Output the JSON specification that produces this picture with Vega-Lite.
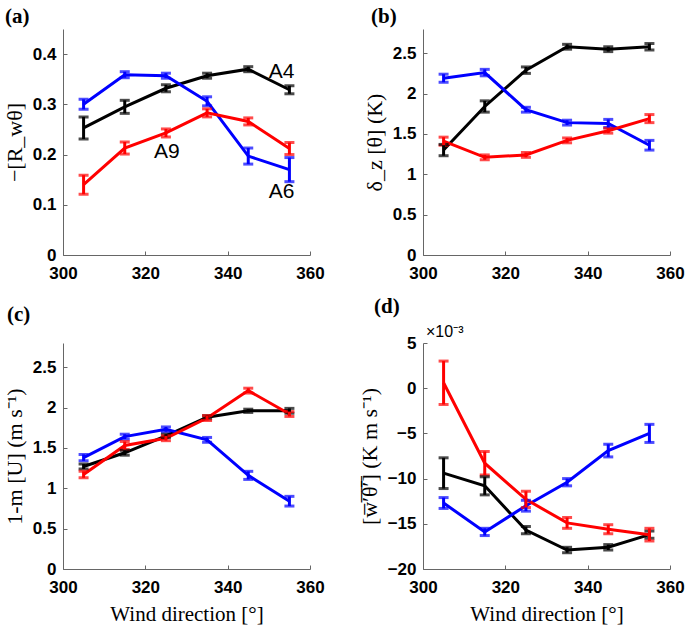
{
  "$schema": "https://vega.github.io/schema/vega-lite/v6.json",
  "autosize": "pad",
  "padding": {"left": 3, "top": 6, "right": 0, "bottom": 5},
  "background": "white",
  "datasets": {
    "pts": [
      {"panel": "a", "series": "A4", "dir": 305, "v": 0.253, "e": 0.022},
      {"panel": "a", "series": "A4", "dir": 315, "v": 0.295, "e": 0.013},
      {"panel": "a", "series": "A4", "dir": 325, "v": 0.332, "e": 0.007},
      {"panel": "a", "series": "A4", "dir": 335, "v": 0.357, "e": 0.005},
      {"panel": "a", "series": "A4", "dir": 345, "v": 0.370, "e": 0.005},
      {"panel": "a", "series": "A4", "dir": 355, "v": 0.329, "e": 0.008},
      {"panel": "a", "series": "A6", "dir": 305, "v": 0.300, "e": 0.010},
      {"panel": "a", "series": "A6", "dir": 315, "v": 0.359, "e": 0.006},
      {"panel": "a", "series": "A6", "dir": 325, "v": 0.357, "e": 0.005},
      {"panel": "a", "series": "A6", "dir": 335, "v": 0.306, "e": 0.009},
      {"panel": "a", "series": "A6", "dir": 345, "v": 0.197, "e": 0.016},
      {"panel": "a", "series": "A6", "dir": 355, "v": 0.170, "e": 0.024},
      {"panel": "a", "series": "A9", "dir": 305, "v": 0.140, "e": 0.019},
      {"panel": "a", "series": "A9", "dir": 315, "v": 0.213, "e": 0.012},
      {"panel": "a", "series": "A9", "dir": 325, "v": 0.243, "e": 0.008},
      {"panel": "a", "series": "A9", "dir": 335, "v": 0.283, "e": 0.008},
      {"panel": "a", "series": "A9", "dir": 345, "v": 0.266, "e": 0.007},
      {"panel": "a", "series": "A9", "dir": 355, "v": 0.212, "e": 0.012},
      {"panel": "b", "series": "A4", "dir": 305, "v": 1.30, "e": 0.07},
      {"panel": "b", "series": "A4", "dir": 315, "v": 1.84, "e": 0.07},
      {"panel": "b", "series": "A4", "dir": 325, "v": 2.29, "e": 0.04},
      {"panel": "b", "series": "A4", "dir": 335, "v": 2.58, "e": 0.03},
      {"panel": "b", "series": "A4", "dir": 345, "v": 2.55, "e": 0.03},
      {"panel": "b", "series": "A4", "dir": 355, "v": 2.58, "e": 0.04},
      {"panel": "b", "series": "A6", "dir": 305, "v": 2.19, "e": 0.05},
      {"panel": "b", "series": "A6", "dir": 315, "v": 2.26, "e": 0.04},
      {"panel": "b", "series": "A6", "dir": 325, "v": 1.80, "e": 0.03},
      {"panel": "b", "series": "A6", "dir": 335, "v": 1.64, "e": 0.03},
      {"panel": "b", "series": "A6", "dir": 345, "v": 1.63, "e": 0.05},
      {"panel": "b", "series": "A6", "dir": 355, "v": 1.36, "e": 0.06},
      {"panel": "b", "series": "A9", "dir": 305, "v": 1.41, "e": 0.05},
      {"panel": "b", "series": "A9", "dir": 315, "v": 1.21, "e": 0.03},
      {"panel": "b", "series": "A9", "dir": 325, "v": 1.24, "e": 0.03},
      {"panel": "b", "series": "A9", "dir": 335, "v": 1.42, "e": 0.03},
      {"panel": "b", "series": "A9", "dir": 345, "v": 1.54, "e": 0.03},
      {"panel": "b", "series": "A9", "dir": 355, "v": 1.69, "e": 0.05},
      {"panel": "c", "series": "A4", "dir": 305, "v": 1.27, "e": 0.03},
      {"panel": "c", "series": "A4", "dir": 315, "v": 1.44, "e": 0.03},
      {"panel": "c", "series": "A4", "dir": 325, "v": 1.65, "e": 0.02},
      {"panel": "c", "series": "A4", "dir": 335, "v": 1.88, "e": 0.02},
      {"panel": "c", "series": "A4", "dir": 345, "v": 1.96, "e": 0.02},
      {"panel": "c", "series": "A4", "dir": 355, "v": 1.96, "e": 0.03},
      {"panel": "c", "series": "A6", "dir": 305, "v": 1.38, "e": 0.04},
      {"panel": "c", "series": "A6", "dir": 315, "v": 1.64, "e": 0.03},
      {"panel": "c", "series": "A6", "dir": 325, "v": 1.73, "e": 0.03},
      {"panel": "c", "series": "A6", "dir": 335, "v": 1.60, "e": 0.03},
      {"panel": "c", "series": "A6", "dir": 345, "v": 1.16, "e": 0.05},
      {"panel": "c", "series": "A6", "dir": 355, "v": 0.84, "e": 0.06},
      {"panel": "c", "series": "A9", "dir": 305, "v": 1.17, "e": 0.04},
      {"panel": "c", "series": "A9", "dir": 315, "v": 1.53, "e": 0.05},
      {"panel": "c", "series": "A9", "dir": 325, "v": 1.62, "e": 0.03},
      {"panel": "c", "series": "A9", "dir": 335, "v": 1.87, "e": 0.03},
      {"panel": "c", "series": "A9", "dir": 345, "v": 2.21, "e": 0.03},
      {"panel": "c", "series": "A9", "dir": 355, "v": 1.92, "e": 0.03},
      {"panel": "d", "series": "A4", "dir": 305, "v": -9.4, "e": 1.7},
      {"panel": "d", "series": "A4", "dir": 315, "v": -10.8, "e": 1.0},
      {"panel": "d", "series": "A4", "dir": 325, "v": -15.7, "e": 0.4},
      {"panel": "d", "series": "A4", "dir": 335, "v": -17.9, "e": 0.3},
      {"panel": "d", "series": "A4", "dir": 345, "v": -17.6, "e": 0.3},
      {"panel": "d", "series": "A4", "dir": 355, "v": -16.2, "e": 0.4},
      {"panel": "d", "series": "A6", "dir": 305, "v": -12.7, "e": 0.6},
      {"panel": "d", "series": "A6", "dir": 315, "v": -15.9, "e": 0.4},
      {"panel": "d", "series": "A6", "dir": 325, "v": -13.0, "e": 0.6},
      {"panel": "d", "series": "A6", "dir": 335, "v": -10.4, "e": 0.4},
      {"panel": "d", "series": "A6", "dir": 345, "v": -6.9, "e": 0.7},
      {"panel": "d", "series": "A6", "dir": 355, "v": -5.0, "e": 1.0},
      {"panel": "d", "series": "A9", "dir": 305, "v": 0.6, "e": 2.4},
      {"panel": "d", "series": "A9", "dir": 315, "v": -8.3, "e": 1.3},
      {"panel": "d", "series": "A9", "dir": 325, "v": -12.3, "e": 0.9},
      {"panel": "d", "series": "A9", "dir": 335, "v": -14.9, "e": 0.6},
      {"panel": "d", "series": "A9", "dir": 345, "v": -15.6, "e": 0.5},
      {"panel": "d", "series": "A9", "dir": 355, "v": -16.2, "e": 0.7}
    ],
    "labels": [
      {"label": "A4", "dir": 350, "v": 0.352},
      {"label": "A9", "dir": 322.1, "v": 0.193},
      {"label": "A6", "dir": 350, "v": 0.113}
    ],
    "scale": [
      {"label": "×10⁻³", "dir": 300, "v": 5}
    ]
  },
  "columns": 2,
  "bounds": "flush",
  "spacing": {"row": 88, "column": 113},
  "concat": [
    {
      "width": 247, "height": 226,
      "title": {"text": "(a)", "dx": -58, "offset": 2},
      "data": {"name": "pts"},
      "transform": [{"filter": "datum.panel === 'a'"}],
      "encoding": {
        "x": {"field": "dir", "type": "quantitative", "scale": {"domain": [300, 360]}, "axis": {"values": [300, 320, 340, 360], "title": null}},
        "y": {"field": "v", "type": "quantitative", "scale": {"domain": [0, 0.45]}, "axis": {"values": [0, 0.1, 0.2, 0.3, 0.4], "format": ".1~f"}, "title": "−[R_wθ]"}
      },
      "layer": [
        {
          "mark": {"type": "line", "strokeWidth": 3},
          "encoding": {
            "color": {"field": "series", "type": "nominal", "scale": {"domain": ["A4", "A6", "A9"], "range": ["#000000", "#0000ff", "#ff0000"]}, "legend": null}
          }
        },
        {
          "mark": {"type": "errorbar", "ticks": {"size": 10}, "thickness": 3},
          "encoding": {
            "yError": {"field": "e"},
            "color": {"field": "series", "type": "nominal", "legend": null}
          }
        },
        {
          "data": {"name": "labels"},
          "mark": {"type": "text", "align": "left", "baseline": "alphabetic", "fontSize": 21, "font": "Liberation Sans", "color": "#000"},
          "encoding": {
            "text": {"field": "label"}
          }
        }
      ]
    },
    {
      "width": 247, "height": 226,
      "title": {"text": "(b)", "dx": -52, "offset": 2},
      "data": {"name": "pts"},
      "transform": [{"filter": "datum.panel === 'b'"}],
      "encoding": {
        "x": {"field": "dir", "type": "quantitative", "scale": {"domain": [300, 360]}, "axis": {"values": [300, 320, 340, 360], "title": null}},
        "y": {"field": "v", "type": "quantitative", "scale": {"domain": [0, 2.8]}, "axis": {"values": [0, 0.5, 1, 1.5, 2, 2.5], "format": "~g"}, "title": "δ_z [θ]  (K)"}
      },
      "layer": [
        {
          "mark": {"type": "line", "strokeWidth": 3},
          "encoding": {
            "color": {"field": "series", "type": "nominal", "scale": {"domain": ["A4", "A6", "A9"], "range": ["#000000", "#0000ff", "#ff0000"]}, "legend": null}
          }
        },
        {
          "mark": {"type": "errorbar", "ticks": {"size": 10}, "thickness": 3},
          "encoding": {
            "yError": {"field": "e"},
            "color": {"field": "series", "type": "nominal", "legend": null}
          }
        }
      ]
    },
    {
      "width": 247, "height": 226,
      "title": {"text": "(c)", "dx": -56, "offset": 18},
      "data": {"name": "pts"},
      "transform": [{"filter": "datum.panel === 'c'"}],
      "encoding": {
        "x": {"field": "dir", "type": "quantitative", "scale": {"domain": [300, 360]}, "axis": {"values": [300, 320, 340, 360]}, "title": "Wind direction [°]"},
        "y": {"field": "v", "type": "quantitative", "scale": {"domain": [0, 2.8]}, "axis": {"values": [0, 0.5, 1, 1.5, 2, 2.5], "format": "~g"}, "title": "1-m  [U]  (m s⁻¹)"}
      },
      "layer": [
        {
          "mark": {"type": "line", "strokeWidth": 3},
          "encoding": {
            "color": {"field": "series", "type": "nominal", "scale": {"domain": ["A4", "A6", "A9"], "range": ["#000000", "#0000ff", "#ff0000"]}, "legend": null}
          }
        },
        {
          "mark": {"type": "errorbar", "ticks": {"size": 10}, "thickness": 3},
          "encoding": {
            "yError": {"field": "e"},
            "color": {"field": "series", "type": "nominal", "legend": null}
          }
        }
      ]
    },
    {
      "width": 247, "height": 226,
      "title": {"text": "(d)", "dx": -49, "offset": 7},
      "data": {"name": "pts"},
      "transform": [{"filter": "datum.panel === 'd'"}],
      "encoding": {
        "x": {"field": "dir", "type": "quantitative", "scale": {"domain": [300, 360]}, "axis": {"values": [300, 320, 340, 360]}, "title": "Wind direction [°]"},
        "y": {"field": "v", "type": "quantitative", "scale": {"domain": [-20, 5]}, "axis": {"values": [-20, -15, -10, -5, 0, 5], "format": "~g"}, "title": "[w̅′̅θ̅′̅]  (K m s⁻¹)"}
      },
      "layer": [
        {
          "mark": {"type": "line", "strokeWidth": 3},
          "encoding": {
            "color": {"field": "series", "type": "nominal", "scale": {"domain": ["A4", "A6", "A9"], "range": ["#000000", "#0000ff", "#ff0000"]}, "legend": null}
          }
        },
        {
          "mark": {"type": "errorbar", "ticks": {"size": 10}, "thickness": 3},
          "encoding": {
            "yError": {"field": "e"},
            "color": {"field": "series", "type": "nominal", "legend": null}
          }
        },
        {
          "data": {"name": "scale"},
          "mark": {"type": "text", "align": "left", "baseline": "bottom", "dx": 3, "dy": -3, "fontSize": 16, "font": "Liberation Sans", "color": "#000"},
          "encoding": {
            "text": {"field": "label"}
          }
        }
      ]
    }
  ],
  "config": {
    "view": {"stroke": null},
    "title": {"anchor": "start", "frame": "group", "font": "Liberation Serif", "fontSize": 21, "fontWeight": "bold", "color": "#000"},
    "axis": {
      "grid": false,
      "domainColor": "#666",
      "domainWidth": 1,
      "ticks": true,
      "tickSize": -4,
      "tickColor": "#666",
      "labelFlush": false,
      "labelFont": "Liberation Sans",
      "labelFontWeight": "bold",
      "labelFontSize": 17,
      "labelColor": "#000",
      "labelPadding": 11,
      "titleFont": "Liberation Serif",
      "titleFontWeight": "normal",
      "titleFontSize": 22,
      "titleColor": "#000"
    },
    "axisX": {"labelPadding": 14, "titlePadding": 8, "titleFontSize": 21},
    "axisY": {"titlePadding": 6}
  }
}
